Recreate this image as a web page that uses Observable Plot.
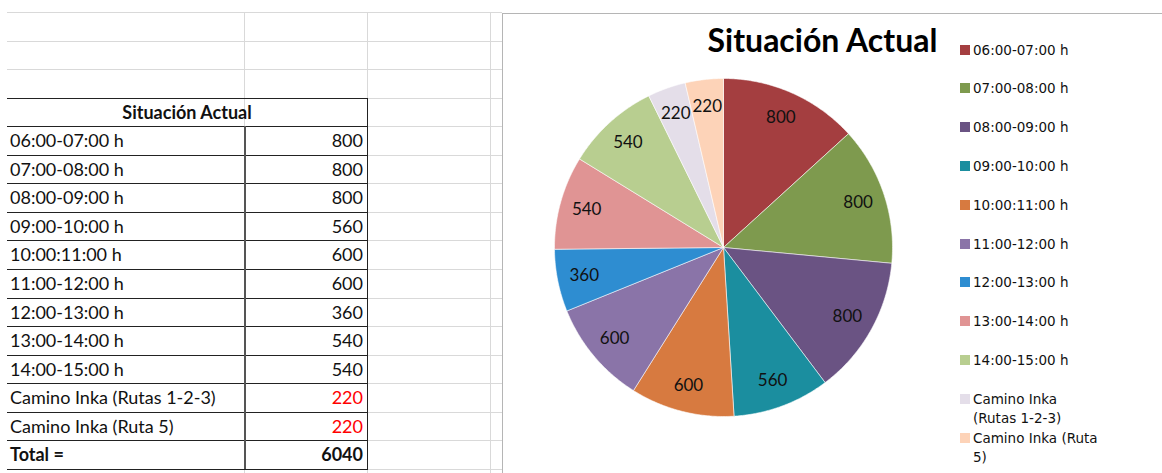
<!DOCTYPE html>
<html><head><meta charset="utf-8">
<script src="https://cdn.jsdelivr.net/npm/d3@7"></script>
<script src="https://cdn.jsdelivr.net/npm/@observablehq/plot@0.6"></script>
<style>
html,body{margin:0;padding:0;background:#fff;width:1162px;height:473px;overflow:hidden;position:relative}
.gl{position:absolute;background:#d9d9d9}
.bl{position:absolute;background:#222}
.cell{position:absolute;font-family:Lato,sans-serif;font-size:18px;color:#111;white-space:nowrap;line-height:28px;height:28px}
#frame{position:absolute;left:502px;top:13px;width:700px;height:500px;border-left:1px solid #b5b5b5;border-top:1px solid #b5b5b5;background:#fff}
#title{position:absolute;left:502px;top:23px;width:641px;text-align:center;font-family:Lato,sans-serif;font-weight:bold;font-size:32px;line-height:34px;color:#000}
#pie{position:absolute;left:543px;top:67px}
.lg{position:absolute;left:960px;font-family:"DejaVu Sans",sans-serif;font-size:13.5px;line-height:19px;color:#111}
.lg .sw{position:absolute;left:0;top:4px;width:10px;height:10px}
.lg .tx{position:absolute;left:13px;top:0;width:127px}
</style></head>
<body>
<div id="sheet"></div>
<div id="frame"></div>
<div id="title">Situación Actual</div>
<div id="pie"></div>
<div id="legend"></div>
<script>
const tableTitle = "Situación Actual";
const categories = ["06:00-07:00 h","07:00-08:00 h","08:00-09:00 h","09:00-10:00 h","10:00:11:00 h","11:00-12:00 h","12:00-13:00 h","13:00-14:00 h","14:00-15:00 h","Camino Inka (Rutas 1-2-3)","Camino Inka (Ruta 5)"];
const values = [800,800,800,560,600,600,360,540,540,220,220];
const redValues = [false,false,false,false,false,false,false,false,false,true,true];
const totalLabel = "Total =";
const colors = ["#A43E40","#7E9A4E","#6A5383","#1B8E9F","#D77A40","#8A74A8","#2E8DD1","#E09494","#B8CE90","#E4DEE9","#FDD3B8"];

// ---- spreadsheet ----
const sheet = document.getElementById("sheet");
const rowH = 28.56, top0 = 12;
function add(cls, css, html){const d=document.createElement("div");d.className=cls;Object.assign(d.style,css);if(html!=null)d.innerHTML=html;sheet.appendChild(d);return d;}
for(let i=0;i<=16;i++){add("gl",{left:"7px",top:(top0+i*rowH)+"px",width:"495px",height:"1px"});}
for(const x of [244,367,490]){add("gl",{left:x+"px",top:top0+"px",width:"1px",height:"470px"});}
const tStart = 3; // row index of table header
for(let i=tStart;i<=16;i++){add("bl",{left:"7px",top:(top0+i*rowH)+"px",width:"361px",height:"1px"});}
add("bl",{left:"244px",top:(top0+(tStart+1)*rowH)+"px",width:"1.5px",height:(12*rowH)+"px",background:"#555"});
add("bl",{left:"367px",top:(top0+tStart*rowH)+"px",width:"1px",height:(13*rowH+1)+"px"});
add("cell",{left:"7px",width:"360px",textAlign:"center",top:(top0+tStart*rowH)+"px",fontWeight:"bold"},tableTitle);
categories.forEach((c,i)=>{
  const y = top0+(tStart+1+i)*rowH;
  add("cell",{left:"10px",top:y+"px"},c);
  add("cell",{left:"244px",width:"119px",textAlign:"right",top:y+"px",color:redValues[i]?"#FF0000":"#111"},values[i]);
});
{
  const y = top0+(tStart+1+categories.length)*rowH;
  add("cell",{left:"10px",top:y+"px",fontWeight:"bold"},totalLabel);
  add("cell",{left:"244px",width:"119px",textAlign:"right",top:y+"px",fontWeight:"bold"},d3.sum(values));
}

// ---- pie ----
const arcs = d3.pie().sort(null).value(d=>d)(values);
const outline = arcs.flatMap((a,i)=>{
  const pts=[{x:0,y:0,cat:categories[i]}];
  const n = Math.max(2, Math.ceil((a.endAngle-a.startAngle)/0.01));
  for(let k=0;k<=n;k++){const t=a.startAngle+(a.endAngle-a.startAngle)*k/n;pts.push({x:Math.sin(t),y:Math.cos(t),cat:categories[i]});}
  pts.push({x:0,y:0,cat:categories[i]});
  return pts;
});
const labelR = 0.84;
const labels = arcs.map((a,i)=>{const m=(a.startAngle+a.endAngle)/2;return {x:labelR*Math.sin(m),y:labelR*Math.cos(m),text:String(values[i])};});
const D = 180/169;
const chart = Plot.plot({
  width:360,height:360,margin:0,
  x:{domain:[-D,D],axis:null},
  y:{domain:[-D,D],axis:null},
  color:{domain:categories,range:colors},
  style:{background:"transparent"},
  marks:[
    Plot.line(outline,{x:"x",y:"y",z:"cat",fill:"cat",stroke:"white",strokeWidth:0.7,strokeOpacity:0.8}),
    Plot.text(labels,{x:"x",y:"y",text:"text",fontSize:17,fontFamily:"Lato, sans-serif",fill:"#111"})
  ]
});
document.getElementById("pie").appendChild(chart);

// ---- legend ----
const legend = document.getElementById("legend");
categories.forEach((c,i)=>{
  const d=document.createElement("div");d.className="lg";d.style.top=(40.5+i*38.8)+"px";
  d.innerHTML=`<div class="sw" style="background:${colors[i]}"></div><div class="tx">${c}</div>`;
  legend.appendChild(d);
});
</script>
</body></html>
